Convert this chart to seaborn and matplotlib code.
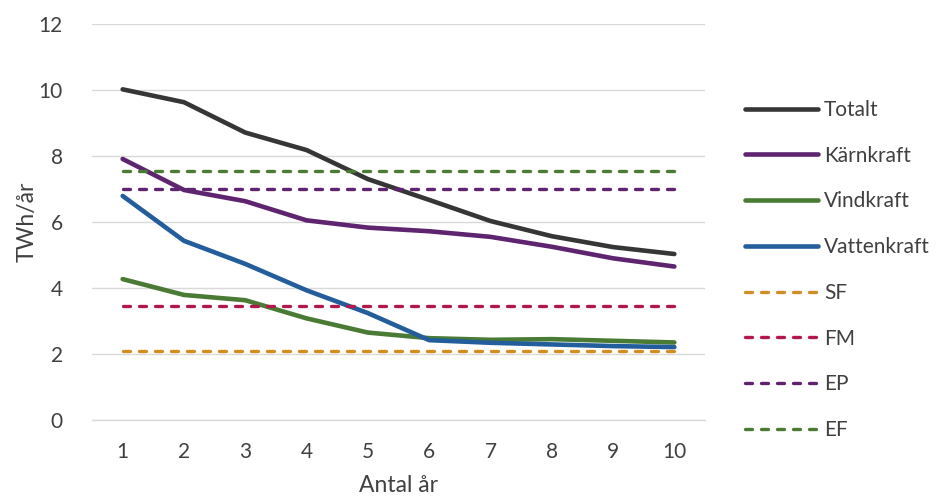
import matplotlib
matplotlib.use("Agg")
import matplotlib.pyplot as plt
import seaborn as sns
import pandas as pd

# Produktion som påverkas per antal år
years = [1, 2, 3, 4, 5, 6, 7, 8, 9, 10]
totalt = [10.02, 9.63, 8.71, 8.18, 7.30, 6.67, 6.03, 5.57, 5.24, 5.03]
karnkraft = [7.91, 6.97, 6.63, 6.05, 5.83, 5.72, 5.55, 5.25, 4.90, 4.65]
vindkraft = [4.27, 3.79, 3.63, 3.08, 2.65, 2.48, 2.43, 2.45, 2.40, 2.35]
vattenkraft = [6.79, 5.43, 4.73, 3.93, 3.24, 2.42, 2.34, 2.29, 2.24, 2.21]

# Referensnivåer
sf = 2.10
fm = 3.45
ep = 7.00
ef = 7.55

series = [
    ("Totalt", totalt, "#363636"),
    ("Kärnkraft", karnkraft, "#5e246f"),
    ("Vindkraft", vindkraft, "#4a7b35"),
    ("Vattenkraft", vattenkraft, "#235d9c"),
]
levels = [
    ("SF", sf, "#d18f22"),
    ("FM", fm, "#b3184b"),
    ("EP", ep, "#5e246f"),
    ("EF", ef, "#4a7b35"),
]

sns.set_theme(style="white")
plt.rcParams["font.family"] = ["Lato", "DejaVu Sans"]
text_color = "#404040"

fig = plt.figure(figsize=(9.37, 4.99), dpi=100)
ax = fig.add_axes([92 / 937, 1 - 420 / 499, (705 - 92) / 937, (420 - 24) / 499])

for name, vals, color in series:
    df = pd.DataFrame({"år": years, "TWh": vals})
    sns.lineplot(data=df, x="år", y="TWh", ax=ax, color=color, linewidth=3.3,
                 label=name, solid_capstyle="round", solid_joinstyle="round")

for name, val, color in levels:
    df = pd.DataFrame({"år": years, "TWh": [val] * len(years)})
    sns.lineplot(data=df, x="år", y="TWh", ax=ax, color=color, linewidth=2.4,
                 label=name)
    line = ax.lines[-1]
    line.set_linestyle((0, (2.1, 2.7)))
    line.set_dash_capstyle("round")

ax.set_xlim(0.5, 10.5)
ax.set_ylim(0, 12)
ax.set_xticks(years)
ax.set_yticks(range(0, 13, 2))
ax.yaxis.grid(True, color="#d9d9d9", linewidth=1.0)
ax.set_axisbelow(True)
for side in ["left", "right", "top"]:
    ax.spines[side].set_visible(False)
ax.spines["bottom"].set_color("#d9d9d9")
ax.spines["bottom"].set_linewidth(1.0)
ax.tick_params(axis="both", length=0, labelsize=15, colors=text_color)
ax.tick_params(axis="x", pad=16)
ax.tick_params(axis="y", pad=21)
ax.set_xlabel("Antal år", fontsize=16.5, color=text_color, labelpad=9)
ax.set_ylabel("TWh/år", fontsize=16.5, color=text_color, labelpad=1)

leg = ax.legend(loc="upper left", bbox_to_anchor=(745 / 937, 1 - 100 / 499),
                bbox_transform=fig.transFigure, frameon=False, fontsize=15,
                handlelength=3.5, handletextpad=0.3, labelspacing=1.235,
                borderaxespad=0, borderpad=0)
for t in leg.get_texts():
    t.set_color(text_color)

fig.savefig("out.png", dpi=100)
